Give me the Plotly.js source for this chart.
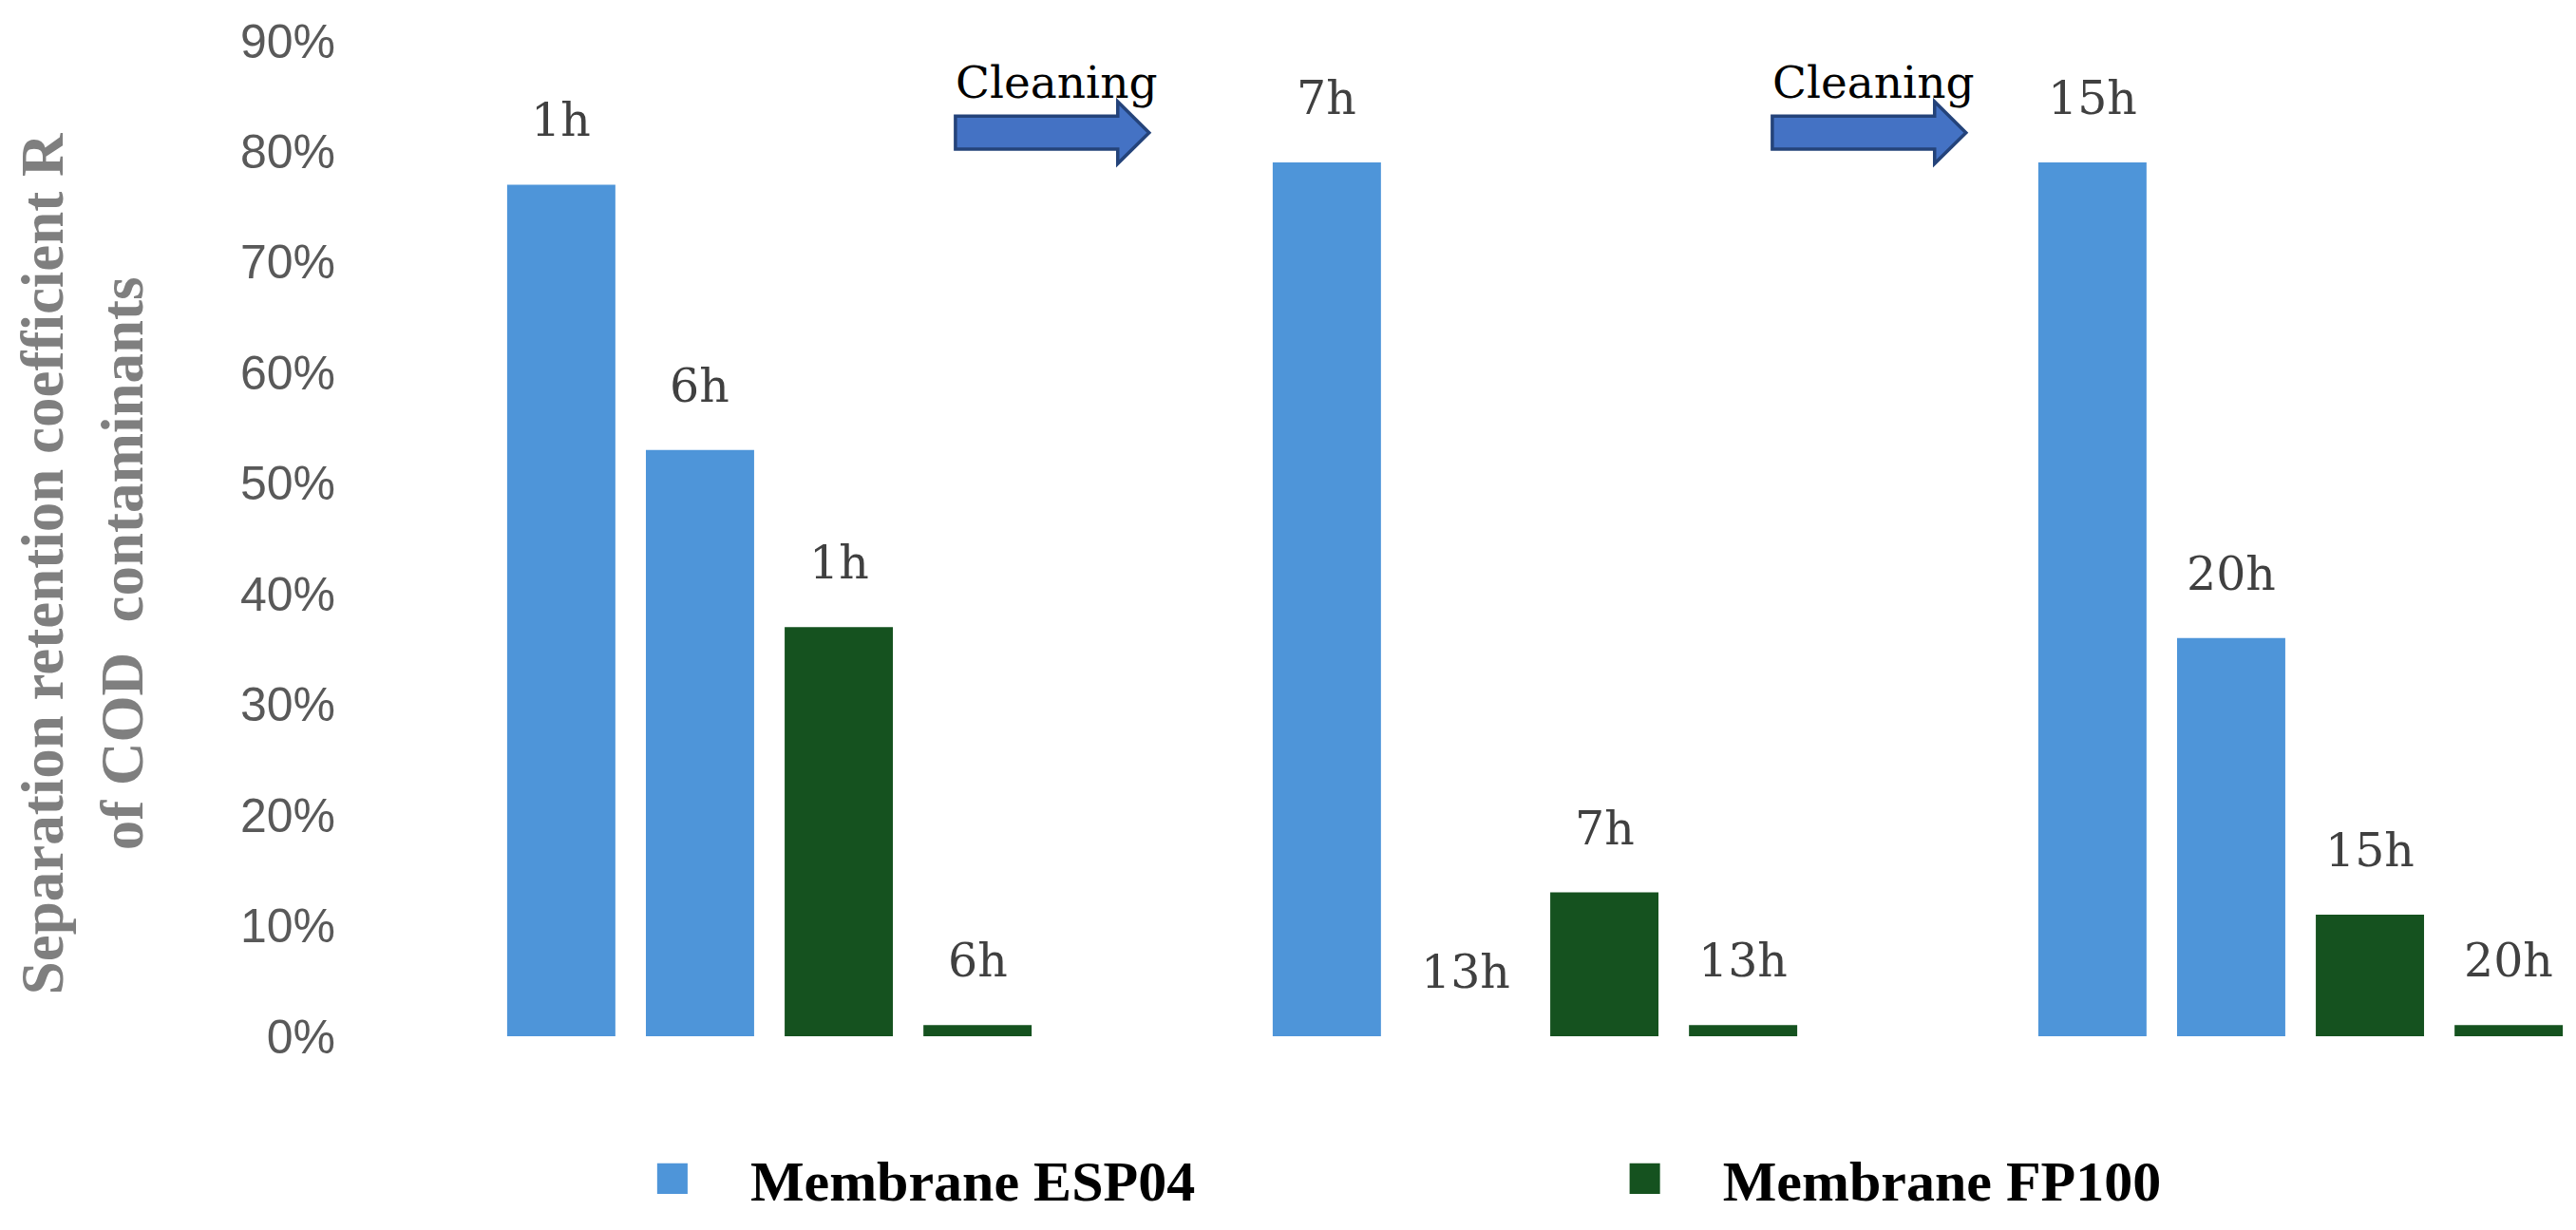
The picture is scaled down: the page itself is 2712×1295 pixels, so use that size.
<!DOCTYPE html>
<html>
<head>
<meta charset="utf-8">
<script src="https://cdn.plot.ly/plotly-3.0.1.min.js"></script>
<style>
    html, body { margin: 0; padding: 0; background: #fff; }
    #graph { width: 2712px; height: 1295px; }
</style>
</head>
<body>
<div id="graph"></div>
<script>
// cycles between two cleanings
const runs = ["Run 1", "Run 2", "Run 3"];

// Membrane ESP04, start and end of each cycle
const espStart = [77, 79, 79];
const espStartLabels = ["1h", "7h", "15h"];
const espEnd = [53, 0, 36];
const espEndLabels = ["6h", "13h", "20h"];

// Membrane FP100, start and end of each cycle
const fpStart = [37, 13, 11];
const fpStartLabels = ["1h", "7h", "15h"];
const fpEnd = [1, 1, 1];
const fpEndLabels = ["6h", "13h", "20h"];

const seriesNames = ["Membrane ESP04", "Membrane FP100"];
const cleaningText = "Cleaning";

const BLUE = "#4e95d9";
const GREEN = "#15521f";
const BARGAP = 0.275;

const labelFont = { family: "DejaVu Serif", size: 49, color: "#404040" };

function barTrace(values, color, name, legendId) {
    return {
        type: "bar",
        x: runs,
        y: values,
        name: name || "",
        legend: legendId || "legend",
        showlegend: !!name,
        marker: { color: color },
        hoverinfo: "skip",
    };
}

function initPlot() {
    var series = [
        [espStart, espStartLabels],
        [espEnd, espEndLabels],
        [fpStart, fpStartLabels],
        [fpEnd, fpEndLabels],
    ];

    var traces = [
        barTrace(espStart, BLUE, seriesNames[0], "legend"),
        barTrace(espEnd, BLUE),
        barTrace(fpStart, GREEN, seriesNames[1], "legend2"),
        barTrace(fpEnd, GREEN),
    ];

    // bar labels sit above each bar
    var slot = (1 - BARGAP) / series.length;
    var annotations = [];
    series.forEach((s, k) => {
        runs.forEach((r, i) => {
            annotations.push({
                x: i + (k - (series.length - 1) / 2) * slot,
                y: s[0][i],
                xref: "x", yref: "y",
                text: s[1][i],
                showarrow: false,
                yanchor: "bottom",
                yshift: 37,
                font: labelFont,
            });
        });
    });

    // y axis title, two lines
    var titleFont = { family: "Liberation Serif", size: 63, color: "#7f7f7f", weight: "bold" };
    annotations.push({
        xref: "paper", yref: "paper", x: -0.1535, y: 0.475,
        text: "Separation retention coefficient R",
        textangle: -90, showarrow: false,
        xanchor: "center", yanchor: "middle", font: titleFont,
    });
    annotations.push({
        xref: "paper", yref: "paper", x: -0.1172, y: 0.475,
        text: "of COD \u00a0contaminants",
        textangle: -90, showarrow: false,
        xanchor: "center", yanchor: "middle", font: titleFont,
    });

    // cleaning arrows between cycles
    var shapes = [];
    [0.243, 1.31].forEach(x0 => {
        var xh = x0 + 0.212;
        var xt = x0 + 0.253;
        shapes.push({
            type: "path",
            xref: "x", yref: "y",
            path: `M${x0},80.2 L${xh},80.2 L${xh},78.9 L${xt},81.7 L${xh},84.5 L${xh},83.2 L${x0},83.2 Z`,
            fillcolor: "#4472c4",
            line: { color: "#24437a", width: 3.5 },
        });
        annotations.push({
            x: x0 - 0.002, y: 83.7,
            xref: "x", yref: "y",
            text: cleaningText,
            showarrow: false,
            xanchor: "left", yanchor: "bottom",
            font: { family: "DejaVu Serif", size: 47, color: "#000000" },
        });
    });

    var legendStyle = {
        orientation: "h",
        xanchor: "left",
        yanchor: "middle",
        y: -0.143,
        itemwidth: 154,
        bgcolor: "rgba(0,0,0,0)",
        font: { family: "Liberation Serif", size: 60, color: "#000000", weight: "bold" },
    };

    const layout = {
        width: 2712,
        height: 1295,
        margin: { l: 400, r: 0, t: 43, b: 204 },
        paper_bgcolor: "#ffffff",
        plot_bgcolor: "#ffffff",
        barmode: "group",
        bargap: BARGAP,
        bargroupgap: 0.22,
        xaxis: {
            type: "category",
            range: [-0.5087, 2.3598],
            showticklabels: false,
            showgrid: false,
            zeroline: false,
            showline: false,
            ticks: "",
        },
        yaxis: {
            range: [0, 90],
            tick0: 0,
            dtick: 10,
            ticksuffix: "%",
            showgrid: false,
            zeroline: false,
            showline: false,
            ticks: "",
            ticklabelstandoff: 46,
            tickfont: { family: "Liberation Sans", size: 50, color: "#595959" },
        },
        legend: Object.assign({}, legendStyle, { x: 0.0977 }),
        legend2: Object.assign({}, legendStyle, { x: 0.5405 }),
        annotations: annotations,
        shapes: shapes,
    };

    const config = {
        displayModeBar: false,
        staticPlot: true,
    };

    Plotly.newPlot("graph", traces, layout, config).then(gd => {
        // plotly draws bar legend swatches at 12px, the figure uses ~32px squares
        gd.querySelectorAll(".legendpoints path").forEach(p => {
            var t = p.getAttribute("transform") || "";
            p.setAttribute("transform", t + " scale(2.67)");
        });
    });
}

document.addEventListener("DOMContentLoaded", () => {
    initPlot();
});
</script>
</body>
</html>
